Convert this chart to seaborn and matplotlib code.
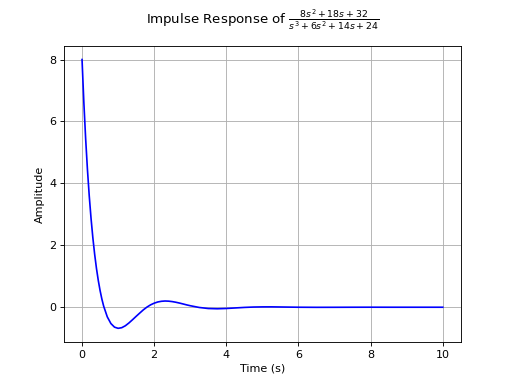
import matplotlib
matplotlib.use("Agg")
import matplotlib.pyplot as plt
import pandas as pd
import seaborn as sns

# impulse response samples
time_s = [0.0, 0.05, 0.1, 0.15, 0.2, 0.25, 0.3, 0.35, 0.4, 0.45, 0.5, 0.55,
          0.6, 0.7, 0.8, 0.9, 1.0, 1.1, 1.2, 1.3, 1.4, 1.5, 1.6, 1.7, 1.8,
          1.9, 2.0, 2.1, 2.2, 2.3, 2.4, 2.5, 2.6, 2.7, 2.8, 2.9, 3.0, 3.25,
          3.5, 3.75, 4.0, 4.25, 4.5, 4.75, 5.0, 5.25, 5.5, 5.75, 6.0, 6.5,
          7.0, 7.5, 8.0, 8.5, 9.0, 9.5, 10.0]
amplitude = [8.000, 6.618, 5.444, 4.445, 3.592, 2.864, 2.241, 1.708, 1.254,
             0.868, 0.540, 0.263, 0.033, -0.311, -0.527, -0.643, -0.681,
             -0.661, -0.599, -0.508, -0.403, -0.294, -0.188, -0.084, 0.005,
             0.077, 0.131, 0.170, 0.192, 0.201, 0.196, 0.182, 0.161, 0.135,
             0.106, 0.076, 0.049, -0.008, -0.041, -0.049, -0.040, -0.023,
             -0.006, 0.006, 0.011, 0.012, 0.008, 0.004, 0.000, -0.003,
             -0.002, 0.000, 0.001, 0.000, 0.000, 0.000, 0.000]

df = pd.DataFrame({"t": time_s, "y": amplitude})

fig, ax = plt.subplots(figsize=(6.4, 4.8), dpi=80)
sns.lineplot(data=df, x="t", y="y", color="blue", linewidth=1.5, ax=ax)
ax.grid(True)
ax.set_xlabel("Time (s)")
ax.set_ylabel("Amplitude")
# title sits at suptitle height but is centred over the axes
fig.suptitle(r"Impulse Response of $\frac{8s^2+18s+32}{s^3+6s^2+14s+24}$",
             x=0.5125)

fig.savefig("out.png", dpi=80)
plt.close(fig)
